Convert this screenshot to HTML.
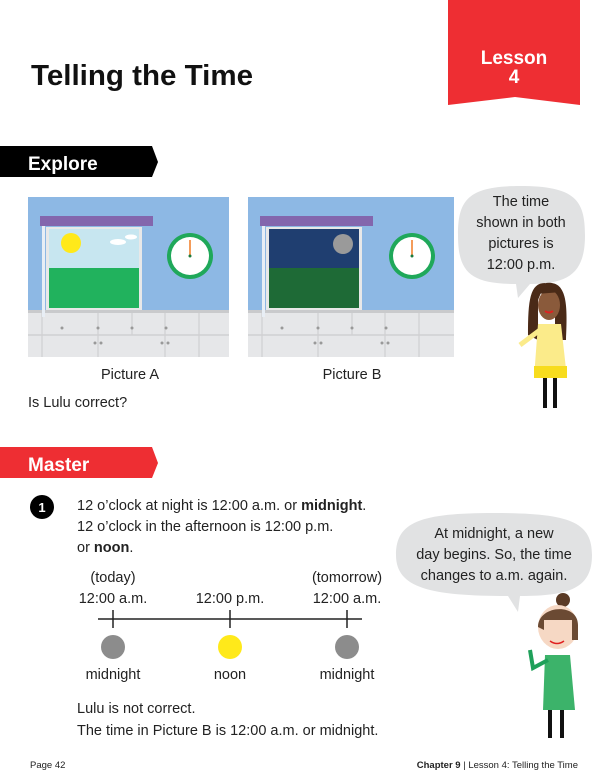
<!DOCTYPE html>
<html><head><meta charset="utf-8"><style>
html,body{margin:0;padding:0;background:#fff;width:607px;height:772px;overflow:hidden}
svg{display:block}
text{font-family:"Liberation Sans",sans-serif}
</style></head><body>
<svg width="607" height="772" viewBox="0 0 607 772" xmlns="http://www.w3.org/2000/svg">
<!-- lesson tab -->
<polygon points="448,0 580,0 580,105 515,97 448,105" fill="#ee2e33"/>
<text x="514" y="64" font-size="19" font-weight="bold" fill="#fff" text-anchor="middle">Lesson</text>
<text x="514" y="83" font-size="19" font-weight="bold" fill="#fff" text-anchor="middle">4</text>
<!-- title -->
<text x="31" y="85" font-size="29" font-weight="bold" fill="#111" textLength="222" lengthAdjust="spacingAndGlyphs">Telling the Time</text>
<!-- explore banner -->
<polygon points="0,146 152,146 158,162 152,177 0,177" fill="#000"/>
<text x="28" y="170" font-size="19" font-weight="bold" fill="#fff">Explore</text>

<!-- Picture A -->
<g>
<rect x="28" y="197" width="201" height="113" fill="#8db8e4"/>
<rect x="28" y="310" width="201" height="47" fill="#e6e7e9"/>
<rect x="28" y="310" width="201" height="3" fill="#c9cacc"/>
<line x1="28" y1="335" x2="229" y2="335" stroke="#cfd0d2" stroke-width="1.5"/>
<g stroke="#cfd0d2" stroke-width="1.2"><line x1="42" y1="313" x2="42" y2="357"/><line x1="98" y1="313" x2="98" y2="357"/><line x1="132" y1="313" x2="132" y2="335"/><line x1="165" y1="313" x2="165" y2="357"/><line x1="199" y1="313" x2="199" y2="357"/></g>
<g fill="#999"><circle cx="62" cy="328" r="1.5"/><circle cx="98" cy="328" r="1.5"/><circle cx="132" cy="328" r="1.5"/><circle cx="166" cy="328" r="1.5"/><circle cx="95" cy="343" r="1.5"/><circle cx="101" cy="343" r="1.5"/><circle cx="162" cy="343" r="1.5"/><circle cx="168" cy="343" r="1.5"/></g>
<rect x="42" y="225" width="3" height="92" fill="#e8eef5"/>
<rect x="46" y="227" width="96" height="83" fill="#e8e8e8"/>
<rect x="49" y="229" width="90" height="59" fill="#c7e6f0"/>
<rect x="49" y="268" width="90" height="40" fill="#21b25d"/>
<circle cx="71" cy="243" r="10" fill="#ffe91a"/>
<ellipse cx="118" cy="242" rx="8" ry="3" fill="#fff"/><ellipse cx="131" cy="237" rx="6" ry="2.5" fill="#fff"/>
<rect x="40" y="216" width="113" height="10" fill="#8366ad"/>
<circle cx="190" cy="256" r="23" fill="#1fa85a"/><circle cx="190" cy="256" r="19" fill="#fff"/>
<line x1="190" y1="256" x2="190" y2="240" stroke="#f07b22" stroke-width="1.5"/><circle cx="190" cy="256" r="1.5" fill="#1c7a3c"/>
</g>
<!-- Picture B -->
<g>
<rect x="248" y="197" width="206" height="113" fill="#8db8e4"/>
<rect x="248" y="310" width="206" height="47" fill="#e6e7e9"/>
<rect x="248" y="310" width="206" height="3" fill="#c9cacc"/>
<line x1="248" y1="335" x2="454" y2="335" stroke="#cfd0d2" stroke-width="1.5"/>
<g stroke="#cfd0d2" stroke-width="1.2"><line x1="262" y1="313" x2="262" y2="357"/><line x1="318" y1="313" x2="318" y2="357"/><line x1="352" y1="313" x2="352" y2="335"/><line x1="385" y1="313" x2="385" y2="357"/><line x1="419" y1="313" x2="419" y2="357"/></g>
<g fill="#999"><circle cx="282" cy="328" r="1.5"/><circle cx="318" cy="328" r="1.5"/><circle cx="352" cy="328" r="1.5"/><circle cx="386" cy="328" r="1.5"/><circle cx="315" cy="343" r="1.5"/><circle cx="321" cy="343" r="1.5"/><circle cx="382" cy="343" r="1.5"/><circle cx="388" cy="343" r="1.5"/></g>
<rect x="262" y="225" width="3" height="92" fill="#e8eef5"/>
<rect x="266" y="227" width="96" height="83" fill="#e8e8e8"/>
<rect x="269" y="229" width="90" height="59" fill="#1f3e70"/>
<rect x="269" y="268" width="90" height="40" fill="#1e6a36"/>
<circle cx="343" cy="244" r="10" fill="#9a9a9a"/>
<rect x="260" y="216" width="113" height="10" fill="#8366ad"/>
<circle cx="412" cy="256" r="23" fill="#1fa85a"/><circle cx="412" cy="256" r="19" fill="#fff"/>
<line x1="412" y1="256" x2="412" y2="240" stroke="#f07b22" stroke-width="1.5"/><circle cx="412" cy="256" r="1.5" fill="#1c7a3c"/>
</g>
<text x="130" y="379" font-size="14.5" fill="#222" text-anchor="middle">Picture A</text>
<text x="352" y="379" font-size="14.5" fill="#222" text-anchor="middle">Picture B</text>
<text x="28" y="407" font-size="14.5" fill="#222">Is Lulu correct?</text>

<!-- bubble 1 -->
<path d="M520,186 C575,186 585,200 585,235 C585,272 570,284 530,284 L518,298 L516,284 C470,284 458,272 458,235 C458,200 468,186 520,186 Z" fill="#e1e2e3"/>
<g font-size="14.5" fill="#222" text-anchor="middle">
<text x="521" y="206">The time</text><text x="521" y="227">shown in both</text><text x="521" y="248">pictures is</text><text x="521" y="269">12:00 p.m.</text></g>
<!-- girl 1 -->
<path d="M545,283 C530,283 528,300 528,335 L538,340 L538,300 Z" fill="#4a2a17"/>
<path d="M548,283 C566,283 568,300 566,340 L555,340 L555,300 Z" fill="#4a2a17"/>
<ellipse cx="549" cy="305" rx="11" ry="15" fill="#8a5a3b"/>
<path d="M536,290 C540,280 560,280 562,292 L536,294 Z" fill="#4a2a17"/>
<path d="M545,311 q4,3 8,0" stroke="#e02020" stroke-width="2" fill="none"/>
<path d="M538,324 L561,324 L567,378 L534,378 Z" fill="#fbeb8a"/>
<rect x="534" y="366" width="33" height="12" fill="#f7dc1e"/>
<path d="M540,330 L520,345" stroke="#fbeb8a" stroke-width="5"/>
<rect x="543" y="378" width="4" height="30" fill="#111"/><rect x="553" y="378" width="4" height="30" fill="#111"/>

<!-- master banner -->
<polygon points="0,447 152,447 158,463 152,478 0,478" fill="#ee2e33"/>
<text x="28" y="471" font-size="19" font-weight="bold" fill="#fff">Master</text>
<circle cx="42" cy="507" r="12" fill="#000"/>
<text x="42" y="512" font-size="13" font-weight="bold" fill="#fff" text-anchor="middle">1</text>
<g font-size="14.5" fill="#222">
<text x="77" y="510">12 o’clock at night is 12:00 a.m. or <tspan font-weight="bold">midnight</tspan>.</text>
<text x="77" y="531">12 o’clock in the afternoon is 12:00 p.m.</text>
<text x="77" y="552">or <tspan font-weight="bold">noon</tspan>.</text>
<text x="113" y="582" text-anchor="middle">(today)</text>
<text x="347" y="582" text-anchor="middle">(tomorrow)</text>
<text x="113" y="603" text-anchor="middle">12:00 a.m.</text>
<text x="230" y="603" text-anchor="middle">12:00 p.m.</text>
<text x="347" y="603" text-anchor="middle">12:00 a.m.</text>
<text x="113" y="679" text-anchor="middle">midnight</text>
<text x="230" y="679" text-anchor="middle">noon</text>
<text x="347" y="679" text-anchor="middle">midnight</text>
<text x="77" y="713">Lulu is not correct.</text>
<text x="77" y="735">The time in Picture B is 12:00 a.m. or midnight.</text>
</g>
<g stroke="#222" stroke-width="1.5">
<line x1="98" y1="619" x2="362" y2="619"/>
<line x1="113" y1="610" x2="113" y2="628"/><line x1="230" y1="610" x2="230" y2="628"/><line x1="347" y1="610" x2="347" y2="628"/>
</g>
<circle cx="113" cy="647" r="12" fill="#8c8c8c"/>
<circle cx="230" cy="647" r="12" fill="#ffe91a"/>
<circle cx="347" cy="647" r="12" fill="#8c8c8c"/>

<!-- bubble 2 -->
<path d="M494,513 C570,513 592,522 592,555 C592,588 570,596 520,596 L518,612 L508,596 C430,596 396,588 396,555 C396,522 420,513 494,513 Z" fill="#e1e2e3"/>
<g font-size="14.5" fill="#222" text-anchor="middle">
<text x="494" y="538">At midnight, a new</text><text x="494" y="559">day begins. So, the time</text><text x="494" y="580">changes to a.m. again.</text></g>
<!-- girl 2 -->
<circle cx="563" cy="600" r="7" fill="#5a3a25"/>
<ellipse cx="558" cy="627" rx="20" ry="22" fill="#f6d8c4"/>
<path d="M538,627 C538,605 578,602 578,625 L578,640 L572,640 L572,620 L544,620 L544,630 Z" fill="#6b4a33"/>
<path d="M550,641 q7,5 14,0" stroke="#e02020" stroke-width="1.5" fill="none"/>
<path d="M545,655 L570,655 L575,710 L543,710 Z" fill="#3cb36a"/>
<path d="M548,660 L533,668 L530,650" stroke="#1fa05a" stroke-width="4" fill="none"/>
<rect x="548" y="710" width="4" height="28" fill="#111"/><rect x="560" y="710" width="4" height="28" fill="#111"/>

<!-- footer -->
<text x="30" y="768" font-size="9.5" fill="#222">Page 42</text>
<text x="578" y="768" font-size="9.5" fill="#222" text-anchor="end"><tspan font-weight="bold">Chapter 9</tspan> | Lesson 4: Telling the Time</text>
</svg>
</body></html>
